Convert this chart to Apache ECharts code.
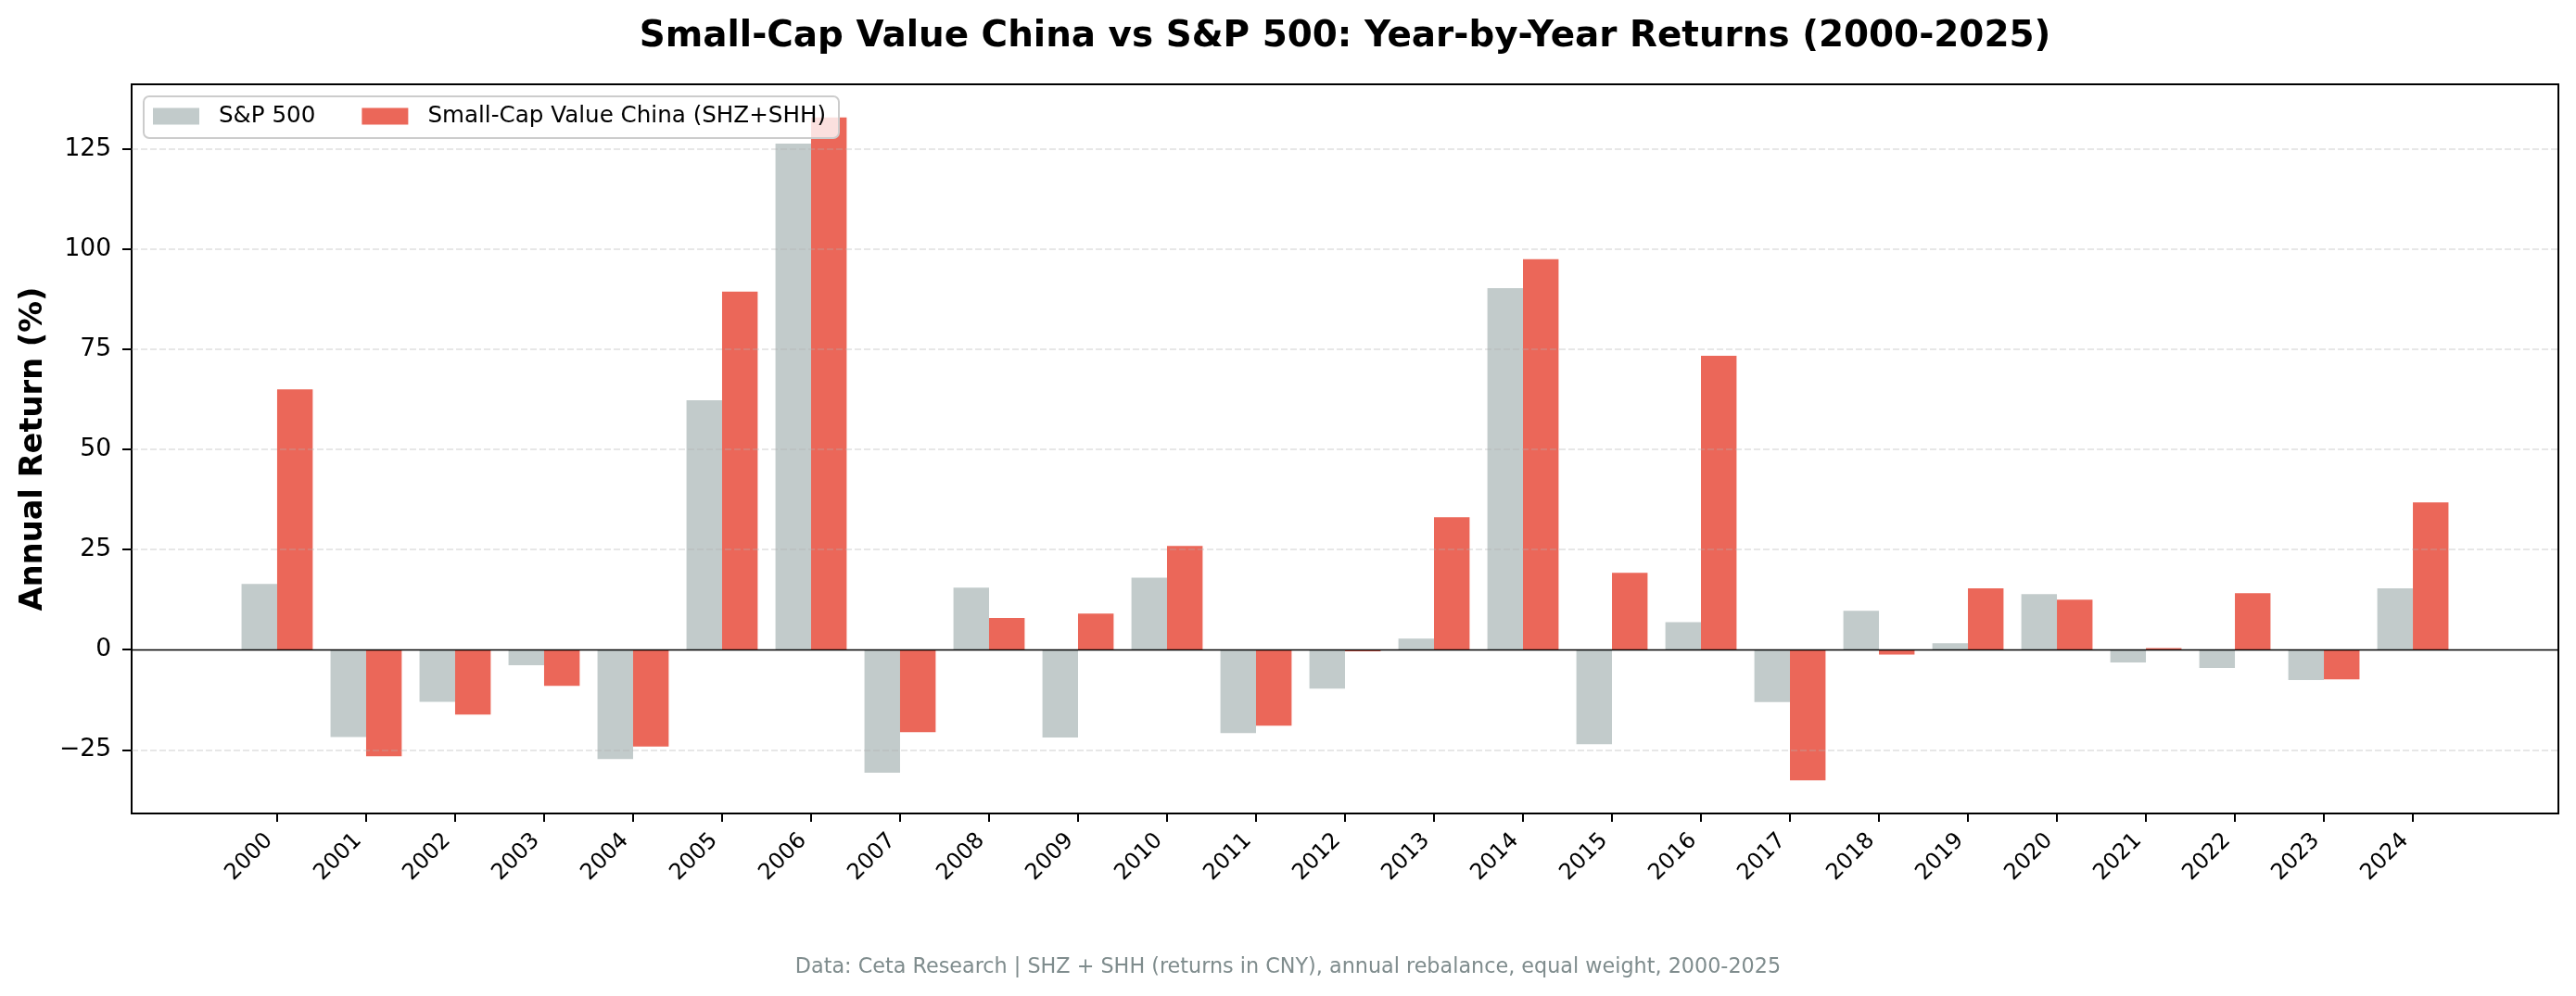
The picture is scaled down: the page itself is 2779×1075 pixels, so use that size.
<!DOCTYPE html>
<html>
<head>
<meta charset="utf-8">
<script src="https://cdn.jsdelivr.net/npm/echarts@6/dist/echarts.min.js"></script>
<style>
html, body { margin: 0; padding: 0; background: #ffffff; }
#chart { width: 2779px; height: 1075px; }
</style>
</head>
<body>
<div id="chart"></div>
<script>
// ---- data ----
const years = ['2000','2001','2002','2003','2004','2005','2006','2007','2008','2009','2010','2011','2012','2013','2014','2015','2016','2017','2018','2019','2020','2021','2022','2023','2024'];
const sp500 = [16.4, -21.8, -13.0, -3.9, -27.3, 62.3, 126.4, -30.7, 15.5, -21.9, 18.0, -20.8, -9.7, 2.8, 90.3, -23.6, 6.9, -13.1, 9.7, 1.6, 13.9, -3.2, -4.6, -7.6, 15.3];
const china = [65.0, -26.6, -16.2, -9.0, -24.2, 89.4, 132.9, -20.6, 7.9, 9.0, 25.9, -19.0, -0.4, 33.1, 97.5, 19.2, 73.4, -32.6, -1.2, 15.3, 12.5, 0.4, 14.1, -7.4, 36.8];
const yTicks = [-25, 0, 25, 50, 75, 100, 125];
const gridValues = [-25, 25, 50, 75, 100, 125];
const seriesNames = ['S&P 500', 'Small-Cap Value China (SHZ+SHH)'];
const titleText = 'Small-Cap Value China vs S&P 500: Year-by-Year Returns (2000-2025)';
const footerText = 'Data: Ceta Research | SHZ + SHH (returns in CNY), annual rebalance, equal weight, 2000-2025';
const yAxisTitle = 'Annual Return (%)';

const FONT = 'DejaVu Sans';
const idx = years.map((_, i) => i);
const spData = sp500.map((v, i) => [i, v]);
const cnData = china.map((v, i) => [i, v]);

const GRID = { left: 142, right: 19, top: 91, bottom: 197 };
const W = 2779;
const plotCenterX = GRID.left + (W - GRID.left - GRID.right) / 2;

const chart = echarts.init(document.getElementById('chart'), null, { renderer: 'canvas' });
chart.setOption({
  animation: false,
  backgroundColor: '#ffffff',
  title: [
    {
      text: titleText,
      left: plotCenterX,
      textAlign: 'center',
      top: 19,
      padding: 0,
      textStyle: { fontFamily: FONT, fontSize: 38.9, fontWeight: 'bold', color: '#000000', lineHeight: 42 }
    },
    {
      text: footerText,
      left: 'center',
      top: 1026,
      textStyle: { fontFamily: FONT, fontSize: 22.3, fontWeight: 'normal', color: '#7f8c8d', lineHeight: 26 }
    }
  ],
  legend: {
    left: 155,
    top: 104,
    orient: 'horizontal',
    padding: [8, 14, 10, 10],
    itemGap: 50,
    itemWidth: 50,
    itemHeight: 18,
    icon: 'rect',
    backgroundColor: 'rgba(255,255,255,0.8)',
    borderColor: '#cccccc',
    borderWidth: 2,
    borderRadius: 6,
    textStyle: { fontFamily: FONT, fontSize: 24.6, color: '#000000', padding: [0, 0, 0, 16], lineHeight: 27 },
    data: seriesNames
  },
  grid: {
    left: GRID.left, right: GRID.right, top: GRID.top, bottom: GRID.bottom,
    show: true, borderColor: '#000000', borderWidth: 2, backgroundColor: 'transparent'
  },
  xAxis: {
    type: 'value',
    min: -1.635,
    max: 25.635,
    splitLine: { show: false },
    axisLine: { show: true, onZero: false, lineStyle: { color: '#000000', width: 2 } },
    axisTick: { show: true, customValues: idx, length: 9, lineStyle: { color: '#000000', width: 2 } },
    axisLabel: {
      customValues: idx,
      rotate: 45,
      align: 'right',
      verticalAlign: 'bottom',
      margin: 34,
      fontFamily: FONT,
      fontSize: 24,
      color: '#000000',
      formatter: (v) => years[Math.round(v)] || ''
    }
  },
  yAxis: {
    type: 'value',
    min: -40.9,
    max: 141.2,
    name: yAxisTitle,
    nameLocation: 'middle',
    nameGap: 86,
    nameTextStyle: { fontFamily: FONT, fontSize: 33.7, fontWeight: 'bold', color: '#000000' },
    splitLine: { show: false },
    axisLine: { show: true, onZero: false, lineStyle: { color: '#000000', width: 2 } },
    axisTick: { show: true, customValues: yTicks, length: 10, lineStyle: { color: '#000000', width: 2 } },
    axisLabel: {
      customValues: yTicks,
      margin: 22,
      fontFamily: FONT,
      fontSize: 26.5,
      color: '#000000',
      formatter: (v) => (v < 0 ? '\u2212' + Math.abs(v) : String(v))
    }
  },
  series: [
    {
      name: seriesNames[0],
      type: 'bar',
      data: spData,
      barWidth: '40%',
      barGap: '0%',
      itemStyle: { color: '#c2cbcb' },
      markLine: {
        silent: true,
        symbol: 'none',
        label: { show: false },
        lineStyle: { color: 'rgba(176,176,176,0.3)', width: 1.8, type: [7, 3] },
        data: gridValues.map(v => ({ yAxis: v }))
      }
    },
    {
      name: seriesNames[1],
      type: 'bar',
      data: cnData,
      barWidth: '40%',
      barGap: '0%',
      itemStyle: { color: '#eb6759' },
      markLine: {
        silent: true,
        symbol: 'none',
        label: { show: false },
        lineStyle: { color: '#000000', width: 1.3, type: 'solid' },
        data: [{ yAxis: 0 }]
      }
    }
  ]
});
</script>
</body>
</html>
